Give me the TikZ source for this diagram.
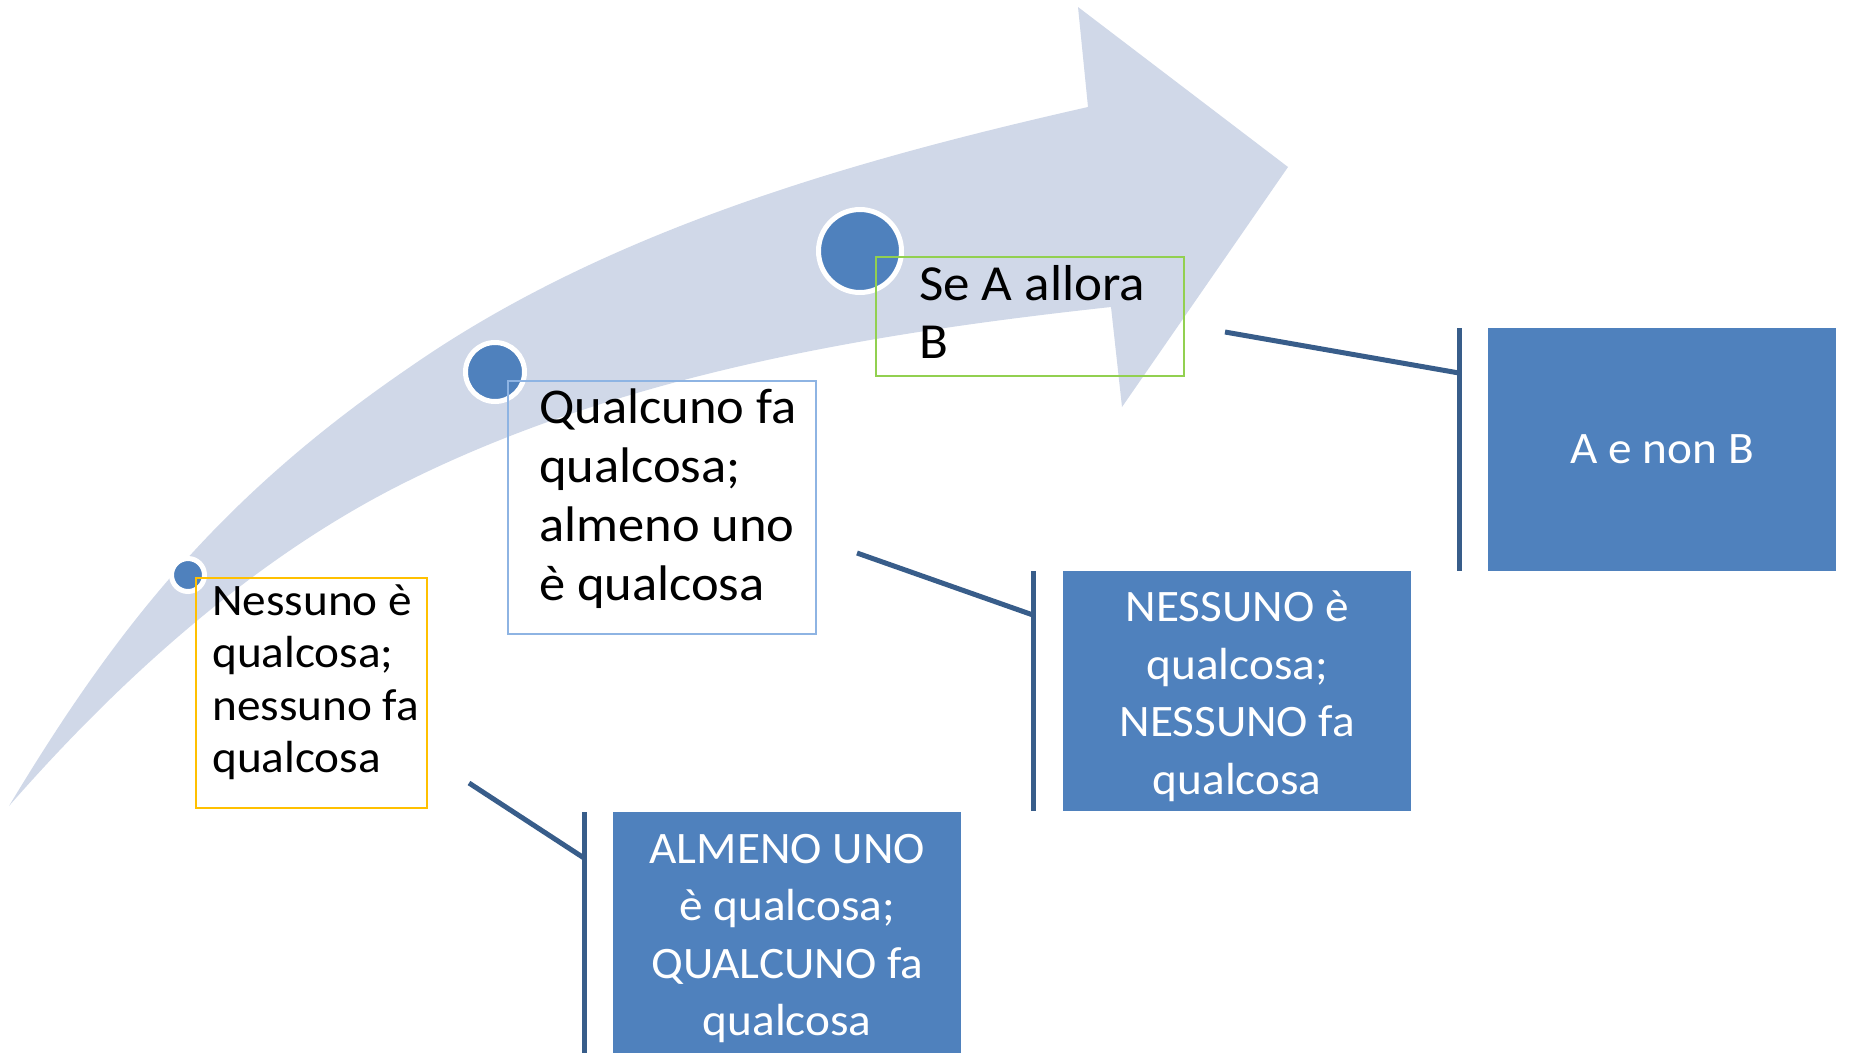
\documentclass[tikz,border=0pt]{standalone}
\usepackage{fontspec}
\setmainfont[FakeStretch=1.05]{Carlito}
\definecolor{bandc}{HTML}{D0D8E8}
\definecolor{dotc}{HTML}{4F81BD}
\definecolor{linec}{HTML}{385D8A}
\definecolor{yelc}{HTML}{FFC000}
\definecolor{bluc}{HTML}{8EB4E3}
\definecolor{grnc}{HTML}{92D050}
\newcommand{\fs}[2]{\fontsize{#1}{#2}\selectfont}
\tikzset{
  dot/.style={fill=dotc, draw=white, line width=5pt, circle, inner sep=0pt},
  outbox/.style={draw=#1, line width=2pt, inner sep=0pt, anchor=north west},
  fillbox/.style={fill=dotc, inner sep=0pt, anchor=north west},
  filltext/.style={text=white, align=center, inner sep=0pt, font={\fs{45}{57.5}}},
  conn/.style={draw=linec, line width=5pt},
  lbl/.style={anchor=base west, inner sep=0pt}
}
\begin{document}
\begin{tikzpicture}[x=1pt,y=-1pt]
\useasboundingbox (0,0) rectangle (1849,1053);
% big curved arrow
\fill[bandc] (9,806) .. controls (115,630) and (218,498) .. (410,367)
  .. controls (607,230) and (854,160) .. (1088,107)
  -- (1078,7) -- (1288,167) -- (1122,407) -- (1111,307)
  .. controls (872,333) and (625,374) .. (410,480)
  .. controls (257,555) and (121,678) .. (9,806) -- cycle;
% dots
\node[dot, minimum size=33pt] (d1) at (188,575) {};
\node[dot, minimum size=59pt] (d2) at (495,372) {};
\node[dot, minimum size=83pt] (d3) at (860,251) {};
% outlined boxes
\node[outbox=yelc, minimum width=231pt, minimum height=230pt] (b1) at (195,577) {};
\node[outbox=bluc, minimum width=308pt, minimum height=253pt] (b2) at (507,380) {};
\node[outbox=grnc, minimum width=308pt, minimum height=119pt] (b3) at (875,256) {};
% texts
\node[lbl] (t1) at (212,615) {\fs{45}{52.5}\begin{tabular}[t]{@{}l@{}}Nessuno è\\qualcosa;\\nessuno fa\\qualcosa\end{tabular}};
\node[lbl] (t2) at (539,423) {\fs{50}{59}\begin{tabular}[t]{@{}l@{}}Qualcuno fa\\qualcosa;\\almeno uno\\è qualcosa\end{tabular}};
\node[lbl] (t3) at (919,300) {\fs{50.5}{58}\begin{tabular}[t]{@{}l@{}}Se A allora\\B\end{tabular}};
% filled boxes
\node[fillbox, minimum width=348pt, minimum height=241pt] (f1) at (613,812) {};
\node[fillbox, minimum width=348pt, minimum height=240pt] (f2) at (1063,571) {};
\node[fillbox, minimum width=348pt, minimum height=243pt] (f3) at (1488,328) {};
\node[filltext, yshift=-6pt] (ft1) at (f1.center) {ALMENO UNO\\è qualcosa;\\QUALCUNO fa\\qualcosa};
\node[filltext, yshift=-5pt] (ft2) at (f2.center) {NESSUNO è\\qualcosa;\\NESSUNO fa\\qualcosa};
\node[filltext] (ft3) at (f3.center) {A e non B};
% bars and connectors
\coordinate (s1) at (469,783); \coordinate (bt1) at (584,812); \coordinate (bb1) at (584,1053); \coordinate (j1) at (584,858);
\coordinate (s2) at (857,553); \coordinate (bt2) at (1033,571); \coordinate (bb2) at (1033,811); \coordinate (j2) at (1033,615);
\coordinate (s3) at (1225,332); \coordinate (bt3) at (1459,328); \coordinate (bb3) at (1459,571); \coordinate (j3) at (1459,373);
\draw[conn] (bt1) -- (bb1);
\draw[conn] (s1) -- (j1);
\draw[conn] (bt2) -- (bb2);
\draw[conn] (s2) -- (j2);
\draw[conn] (bt3) -- (bb3);
\draw[conn] (s3) -- (j3);
\end{tikzpicture}
\end{document}
